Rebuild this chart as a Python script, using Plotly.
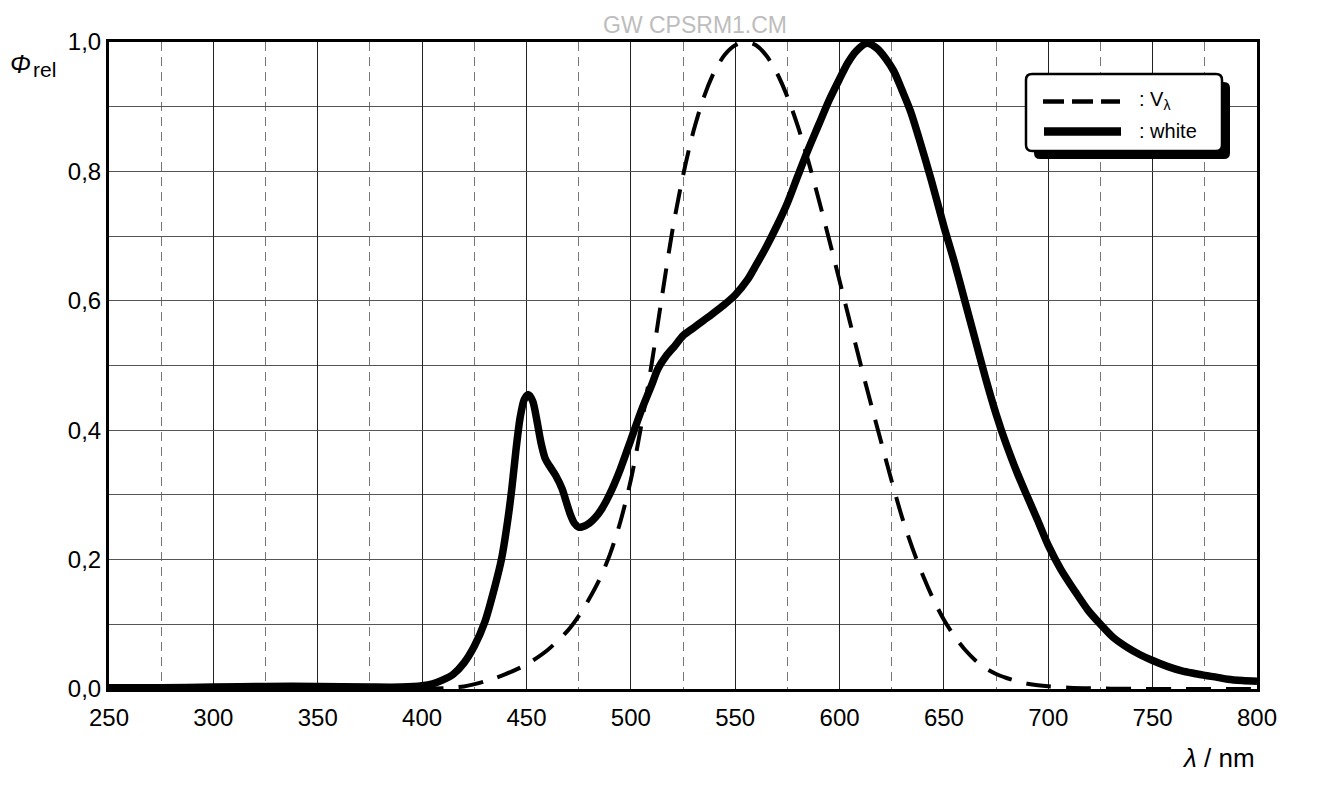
import plotly.graph_objects as go

# ---------------- data ----------------
white_nm = [250, 275, 300, 325, 350, 375, 390, 400, 405, 410, 415, 420, 425, 430, 435, 438,
            441, 443, 445, 447, 449, 451, 453, 455, 457, 459, 461, 464, 467, 469, 471, 473,
            475, 477, 480, 483, 486, 490, 495, 500, 505, 510, 513, 517, 521, 525, 530, 535,
            538, 544, 550, 556, 560, 565, 570, 575, 580, 585, 590, 595, 600, 604, 608, 613,
            618, 622, 626, 630, 634, 638, 644, 650, 655, 660, 665, 670, 675, 680, 685, 690,
            695, 700, 706, 713, 719, 725, 731, 738, 744, 750, 757, 764, 770, 775, 781, 786,
            793, 800]
white_val = [0.002, 0.002, 0.003, 0.004, 0.004, 0.003, 0.003, 0.005, 0.008, 0.014, 0.023, 0.040,
             0.066, 0.103, 0.160, 0.200, 0.260, 0.310, 0.370, 0.420, 0.448, 0.455, 0.445, 0.415,
             0.380, 0.356, 0.345, 0.330, 0.310, 0.290, 0.270, 0.256, 0.250, 0.251, 0.256, 0.265,
             0.278, 0.302, 0.340, 0.385, 0.430, 0.470, 0.495, 0.515, 0.530, 0.546, 0.558, 0.570,
             0.577, 0.592, 0.609, 0.633, 0.655, 0.684, 0.716, 0.751, 0.793, 0.834, 0.872, 0.910,
             0.943, 0.968, 0.986, 0.998, 0.990, 0.975, 0.955, 0.925, 0.893, 0.852, 0.786, 0.715,
             0.660, 0.600, 0.540, 0.480, 0.425, 0.377, 0.335, 0.297, 0.260, 0.222, 0.185, 0.150,
             0.122, 0.100, 0.080, 0.064, 0.053, 0.044, 0.035, 0.028, 0.024, 0.021, 0.018, 0.015,
             0.013, 0.012]

v_nm = [360, 370, 380, 390, 400, 410, 420, 430, 440, 450, 460, 470, 475, 480, 485, 490, 495,
        500, 505, 510, 515, 520, 525, 530, 535, 540, 545, 550, 555, 560, 565, 570, 575, 580,
        585, 590, 595, 600, 605, 610, 615, 620, 625, 630, 635, 640, 645, 650, 655, 660, 665,
        670, 675, 680, 685, 690, 695, 700, 710, 720, 730, 740, 750, 760, 770, 780, 790, 800]
v_val = [0.0000, 0.0000, 0.0000, 0.0001, 0.0004, 0.0012, 0.0040, 0.0116, 0.0230, 0.0380,
         0.0600, 0.0910, 0.1126, 0.1390, 0.1693, 0.2080, 0.2586, 0.3230, 0.4073, 0.5030,
         0.6082, 0.7100, 0.7932, 0.8620, 0.9149, 0.9540, 0.9803, 0.9950, 1.0000, 0.9950,
         0.9786, 0.9520, 0.9154, 0.8700, 0.8163, 0.7570, 0.6949, 0.6310, 0.5668, 0.5030,
         0.4412, 0.3810, 0.3210, 0.2650, 0.2170, 0.1750, 0.1382, 0.1070, 0.0816, 0.0610,
         0.0446, 0.0320, 0.0232, 0.0170, 0.0119, 0.0082, 0.0057, 0.0041, 0.0021, 0.0010,
         0.0005, 0.0002, 0.0001, 0.0001, 0.0000, 0.0000, 0.0000, 0.0000]

y_tick_vals = [0.0, 0.2, 0.4, 0.6, 0.8, 1.0]
y_tick_labels = ["0,0", "0,2", "0,4", "0,6", "0,8", "1,0"]
x_tick_vals = [250, 300, 350, 400, 450, 500, 550, 600, 650, 700, 750, 800]
x_tick_labels = ["250", "300", "350", "400", "450", "500", "550", "600", "650", "700", "750", "800"]

# ---------------- layout geometry (pixels) ----------------
W, H = 1326, 786
L, R, T, B = 109, 1257, 42, 689
FONT = "Liberation Sans, Arial, Helvetica, sans-serif"


def px(x):
    return (x - L) / (R - L)


def py(y):
    return (B - y) / (B - T)


fig = go.Figure()
fig.add_trace(go.Scatter(x=white_nm, y=white_val, mode="lines", name="white",
                         line=dict(color="black", width=7.5, shape="spline", smoothing=0.8),
                         showlegend=False))
fig.add_trace(go.Scatter(x=v_nm, y=v_val, mode="lines", name="V<sub>λ</sub>",
                         line=dict(color="black", width=4, dash="25px,15px", shape="spline",
                                   smoothing=0.8),
                         showlegend=False))

shapes = []


def rounded_path(x0, y0, x1, y1, r):
    def P(x, y):
        return f"{px(x):.5f},{py(y):.5f}"
    return (f"M {P(x0 + r, y0)} L {P(x1 - r, y0)} Q {P(x1, y0)} {P(x1, y0 + r)} "
            f"L {P(x1, y1 - r)} Q {P(x1, y1)} {P(x1 - r, y1)} L {P(x0 + r, y1)} "
            f"Q {P(x0, y1)} {P(x0, y1 - r)} L {P(x0, y0 + r)} Q {P(x0, y0)} {P(x0 + r, y0)} Z")


shapes.append(dict(type="path", xref="paper", yref="paper", layer="above",
                   path=rounded_path(1034, 82, 1230, 159, 6),
                   fillcolor="black", line=dict(color="black", width=0)))
shapes.append(dict(type="path", xref="paper", yref="paper", layer="above",
                   path=rounded_path(1026, 74, 1222, 151, 6),
                   fillcolor="white", line=dict(color="black", width=2.5)))
shapes.append(dict(type="line", xref="paper", yref="paper", layer="above",
                   x0=px(1043), x1=px(1120), y0=py(101.5), y1=py(101.5),
                   line=dict(color="black", width=4.5, dash="21px,8px")))
shapes.append(dict(type="line", xref="paper", yref="paper", layer="above",
                   x0=px(1044), x1=px(1121), y0=py(131.5), y1=py(131.5),
                   line=dict(color="black", width=8.5)))

annotations = [
    dict(text=": V<sub>λ</sub>", x=px(1137), y=py(100), xref="paper", yref="paper",
         xanchor="left", yanchor="middle", showarrow=False,
         font=dict(family=FONT, size=20, color="black")),
    dict(text=": white", x=px(1137), y=py(131), xref="paper", yref="paper",
         xanchor="left", yanchor="middle", showarrow=False,
         font=dict(family=FONT, size=20, color="black")),
    dict(text="<i>Φ</i>", x=px(33), y=py(64), xref="paper", yref="paper",
         xanchor="right", yanchor="middle", showarrow=False,
         font=dict(family=FONT, size=25, color="black")),
    dict(text="rel", x=px(31), y=py(69), xref="paper", yref="paper",
         xanchor="left", yanchor="middle", showarrow=False,
         font=dict(family=FONT, size=21, color="black")),
    dict(text="<i>λ</i> / nm", x=px(1257), y=py(758), xref="paper", yref="paper",
         xanchor="right", yanchor="middle", showarrow=False,
         font=dict(family=FONT, size=26, color="black")),
    dict(text="GW CPSRM1.CM", x=px(695), y=py(25), xref="paper", yref="paper",
         xanchor="center", yanchor="middle", showarrow=False,
         font=dict(family=FONT, size=23, color="#bdbdbd")),
]

fig.update_layout(
    width=W, height=H,
    margin=dict(l=L, r=W - R, t=T, b=H - B),
    paper_bgcolor="white", plot_bgcolor="white",
    font=dict(family=FONT, size=24, color="black"),
    showlegend=False,
    shapes=shapes,
    annotations=annotations,
)
fig.update_xaxes(range=[250, 800], tickvals=x_tick_vals, ticktext=x_tick_labels,
                 showgrid=True, gridcolor="#222", gridwidth=1,
                 minor=dict(dtick=25, tick0=250, showgrid=True, gridcolor="#777",
                            gridwidth=1, griddash="9px,6px"),
                 showline=True, linecolor="black", linewidth=3, mirror=True,
                 ticks="", zeroline=False, tickfont=dict(size=24),
                 ticklabelstandoff=5)
fig.update_yaxes(range=[0, 1.0], tickvals=y_tick_vals, ticktext=y_tick_labels,
                 showgrid=True, gridcolor="#555", gridwidth=1,
                 minor=dict(dtick=0.1, tick0=0, showgrid=True, gridcolor="#555", gridwidth=1),
                 showline=True, linecolor="black", linewidth=3, mirror=True,
                 ticks="", zeroline=False, tickfont=dict(size=24))

fig.write_html("out.html")
